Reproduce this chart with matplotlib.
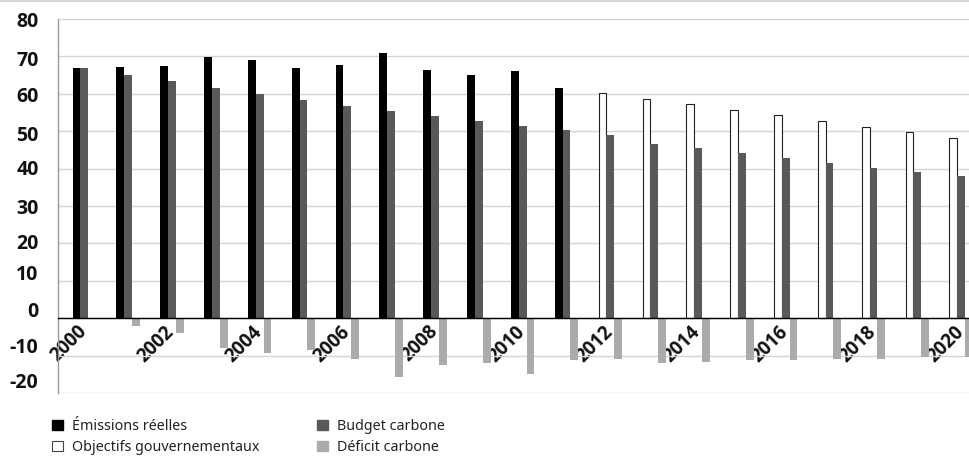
import numpy as np
import matplotlib
matplotlib.use("Agg")
import matplotlib.pyplot as plt
from matplotlib.patches import Patch
from matplotlib.font_manager import FontProperties
from matplotlib.transforms import ScaledTranslation

plt.rcParams["axes.unicode_minus"] = False

years = list(range(2000, 2021))
emissions_years = list(range(2000, 2012))
emissions = [67.0, 67.2, 67.5, 69.9, 69.0, 67.0, 67.7, 71.0, 66.3, 65.0, 66.1, 61.5]
objective_years = list(range(2012, 2021))
objectives = [60.1, 58.6, 57.2, 55.7, 54.2, 52.6, 51.1, 49.7, 48.2]
budget = [67.0, 65.0, 63.5, 61.5, 59.9, 58.3, 56.7, 55.4, 54.0, 52.7, 51.4, 50.3,
          49.0, 46.6, 45.5, 44.2, 42.8, 41.5, 40.2, 39.1, 38.0]
deficit = [-0.3, -2.0, -4.0, -8.1, -9.2, -8.4, -11.0, -15.6, -12.4, -12.1, -14.8, -11.3,
           -11.0, -11.9, -11.6, -11.3, -11.3, -11.0, -10.8, -10.5, -10.3]
year_labels = [str(y) for y in range(2000, 2021, 2)]
y_ticks = [80, 70, 60, 50, 40, 30, 20, 10, 0, -10, -20]
legend_labels = ["Émissions réelles", "Objectifs gouvernementaux",
                 "Budget carbone", "Déficit carbone"]

C_EMIS = "#000000"
C_OBJ = "#ffffff"
C_BUDGET = "#595959"
C_DEFICIT = "#ababab"
C_GRID = "#d4d4d4"

fig = plt.figure(figsize=(9.69, 4.66), dpi=100)
ax = fig.add_axes([58 / 969, 73 / 466, 1 - 58 / 969, (447 - 73) / 466])

w = 0.178
idx = {y: i for i, y in enumerate(years)}
x_all = np.arange(len(years))
x_emis = np.array([idx[y] for y in emissions_years])
x_obj = np.array([idx[y] for y in objective_years])

ax.bar(x_emis - w, emissions, width=w, color=C_EMIS, zorder=3)
ax.bar(x_obj - w, objectives, width=w, color=C_OBJ, edgecolor="#222222",
       linewidth=0.8, zorder=3)
ax.bar(x_all, budget, width=w, color=C_BUDGET, zorder=3)
ax.bar(x_all + w, deficit, width=w, color=C_DEFICIT, zorder=3)

ax.set_ylim(-20, 80)
ax.set_xlim(-0.6, 20.18)
ax.set_yticks(y_ticks)
ax.grid(axis="y", color=C_GRID, linewidth=1.0, zorder=0)
ax.set_axisbelow(True)

for s in ("top", "right"):
    ax.spines[s].set_visible(False)
ax.spines["left"].set_color("#9a9a9a")
ax.spines["left"].set_linewidth(1.0)
ax.spines["bottom"].set_position(("data", 0))
ax.spines["bottom"].set_color("#000000")
ax.spines["bottom"].set_linewidth(1.0)
ax.spines["bottom"].set_zorder(4)

ax.set_xticks([idx[int(t)] for t in year_labels])
ax.set_xticklabels(year_labels)
ax.tick_params(axis="both", length=0)
ax.tick_params(axis="y", pad=14)
ax.tick_params(axis="x", pad=2.5)

ytick_fp = FontProperties(family="Open Sans", weight="bold", size=14)
xtick_fp = FontProperties(family="Open Sans", weight="bold", size=13.5)
for lbl in ax.get_yticklabels():
    lbl.set_fontproperties(ytick_fp)
    lbl.set_color("#111111")
for lbl in ax.get_xticklabels():
    lbl.set_fontproperties(xtick_fp)
    lbl.set_rotation(45)
    lbl.set_ha("right")
    lbl.set_va("top")
    lbl.set_color("#111111")

# nudge rotated year labels slightly right of the group centre
for lbl in ax.get_xticklabels():
    lbl.set_transform(lbl.get_transform() + ScaledTranslation(0.065, 0, fig.dpi_scale_trans))

# small vertical nudges (pixels, positive = down) for the value labels
ytick_nudge_px = [1, 2.5, 0.7, 2, -1.5, 0, -2, -8.5, -9, -10, -12]
for lbl, d in zip(ax.get_yticklabels(), ytick_nudge_px):
    lbl.set_transform(lbl.get_transform() + ScaledTranslation(0, -d / 100, fig.dpi_scale_trans))

# thin rule across the top of the figure
fig.add_artist(plt.Line2D([0, 1], [1 - 1 / 466, 1 - 1 / 466], transform=fig.transFigure,
                          color=C_GRID, linewidth=1.5))

handles = [
    Patch(facecolor=C_EMIS, edgecolor=C_EMIS),
    Patch(facecolor=C_OBJ, edgecolor="#444444", linewidth=0.8),
    Patch(facecolor=C_BUDGET, edgecolor=C_BUDGET),
    Patch(facecolor=C_DEFICIT, edgecolor=C_DEFICIT),
]
leg = fig.legend(handles, legend_labels, ncol=2, loc="upper left",
                 bbox_to_anchor=(52 / 969, 1 - 419 / 466), frameon=False,
                 prop=dict(family="Noto Sans", size=10.3),
                 handlelength=0.77, handleheight=0.77, handletextpad=0.63,
                 labelspacing=0.42, columnspacing=4.0, borderpad=0, borderaxespad=0)
for t in leg.get_texts():
    t.set_color("#222222")

fig.savefig("out.png", dpi=100)
